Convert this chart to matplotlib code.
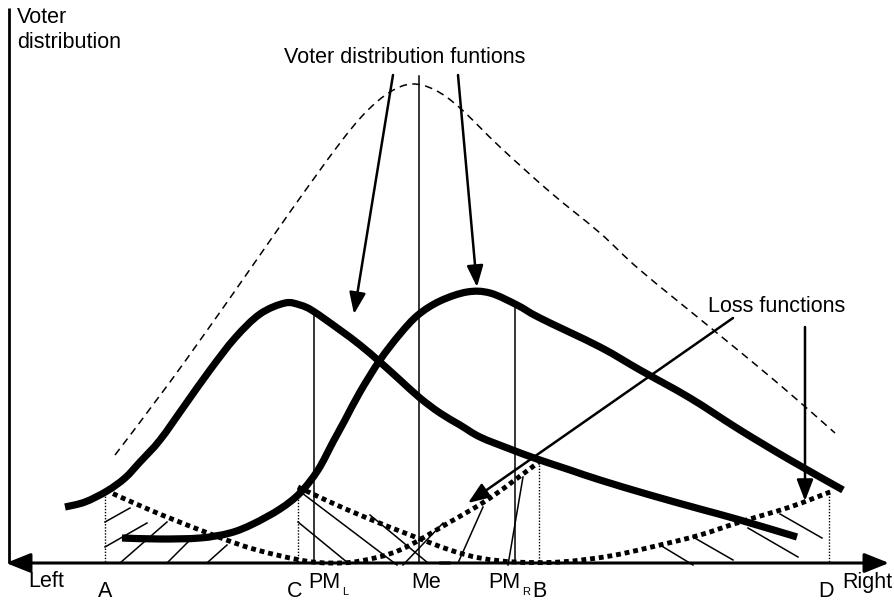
import matplotlib
matplotlib.use('Agg')
import matplotlib.pyplot as plt
from matplotlib.path import Path
from matplotlib.patches import PathPatch

plt.rcParams['font.family'] = ['Liberation Sans', 'DejaVu Sans']

# schematic drawn in picture coordinates (x to the right, y downwards)
left_x = [65, 85, 107, 125, 140, 160, 185, 210, 235, 260, 285, 300, 313, 340, 360, 380, 400, 420, 440, 460, 480, 510, 537, 570, 600, 650, 700, 740, 797]
left_y = [507, 502, 491, 478, 462, 440, 405, 370, 338, 314, 303, 305, 311, 330, 345, 362, 380, 398, 413, 425, 437, 449, 459, 470, 480, 495, 509, 520, 537]

right_x = [122, 160, 200, 230, 253, 280, 300, 318, 333, 345, 360, 380, 400, 418, 440, 467, 490, 517, 540, 600, 640, 690, 740, 790, 843]
right_y = [538, 539, 538, 533, 524, 509, 493, 470, 442, 420, 392, 360, 334, 315, 301, 292, 293, 305, 318, 347, 370, 398, 430, 460, 490]

total_x = [115, 170, 230, 290, 337, 365, 390, 412, 435, 460, 500, 550, 600, 640, 717, 780, 835]
total_y = [455, 382, 298, 212, 147, 113, 92, 84, 90, 108, 147, 192, 233, 270, 333, 385, 433]

lossL_x = [105, 150, 200, 250, 300, 330, 360, 400, 450, 490, 539]
lossL_y = [490, 510, 530, 548, 560, 563, 561, 550, 522, 498, 462]

lossR_x = [298, 330, 367, 410, 450, 480, 515, 560, 610, 660, 700, 740, 790, 830]
lossR_y = [487, 502, 518, 535, 550, 558, 562, 562, 556, 545, 535, 522, 507, 492]

# points on the ideological axis
point_names = ['A', 'C', 'B', 'D']
point_x = [105, 298, 539, 829]
point_top = [490, 487, 462, 490]

# vertical positions (PM_L, Me, PM_R)
vline_x = [314, 419, 515]
vline_top = [311, 76, 306]

# hatching segments
hatch_x0 = [105, 105, 120, 168, 208, 298, 298, 370, 403, 458, 508, 660, 693, 748, 780]
hatch_y0 = [522, 547, 563, 562, 562, 490, 522, 515, 565, 563, 565, 545, 537, 528, 514]
hatch_x1 = [130, 147, 167, 190, 227, 397, 348, 428, 443, 483, 523, 693, 733, 798, 822]
hatch_y1 = [508, 523, 522, 540, 545, 565, 563, 563, 523, 507, 477, 565, 560, 557, 538]

# annotation arrows (start -> tip)
arrow_x0 = [393, 458, 733, 805]
arrow_y0 = [75, 75, 318, 327]
arrow_x1 = [354, 477, 468, 805]
arrow_y1 = [314, 287, 503, 501]

base_y = 563


def smooth(xs, ys):
    # catmull-rom through the read points, drawn as bezier segments
    pts = list(zip(xs, ys))
    verts = [pts[0]]
    codes = [Path.MOVETO]
    for i in range(len(pts) - 1):
        p0 = pts[max(i - 1, 0)]
        p1 = pts[i]
        p2 = pts[i + 1]
        p3 = pts[min(i + 2, len(pts) - 1)]
        c1 = (p1[0] + (p2[0] - p0[0]) / 6, p1[1] + (p2[1] - p0[1]) / 6)
        c2 = (p2[0] - (p3[0] - p1[0]) / 6, p2[1] - (p3[1] - p1[1]) / 6)
        verts += [c1, c2, p2]
        codes += [Path.CURVE4] * 3
    return Path(verts, codes)


fig = plt.figure(figsize=(8.95, 6.02), dpi=100)
ax = fig.add_axes([0, 0, 1, 1])
ax.set_xlim(0, 895)
ax.set_ylim(602, 0)
ax.axis('off')

# axes of the diagram
ax.plot([9, 9], [8, base_y], color='black', lw=2, solid_capstyle='butt')
ax.annotate('', xy=(6, base_y), xytext=(450, base_y),
            arrowprops=dict(arrowstyle='-|>,head_length=0.75,head_width=0.3', mutation_scale=20,
                            color='black', lw=2.2, shrinkA=0, shrinkB=0))
ax.annotate('', xy=(889, base_y), xytext=(440, base_y),
            arrowprops=dict(arrowstyle='-|>,head_length=0.75,head_width=0.3', mutation_scale=20,
                            color='black', lw=2.2, shrinkA=0, shrinkB=0))

# aggregate distribution
ax.add_patch(PathPatch(smooth(total_x, total_y), fill=False, edgecolor='black', lw=1.1,
                       linestyle=(0, (5, 3.5))))

# verticals
for x, t in zip(vline_x, vline_top):
    ax.plot([x, x], [t, base_y], color='black', lw=1.1)
for x, t in zip(point_x, point_top):
    ax.plot([x, x], [t, base_y], color='black', lw=1.0, linestyle=(0, (1, 1.2)))

# hatching
for a, b, c, d in zip(hatch_x0, hatch_y0, hatch_x1, hatch_y1):
    ax.plot([a, c], [b, d], color='black', lw=1.1)

# loss functions
for xs, ys in [(lossL_x, lossL_y), (lossR_x, lossR_y)]:
    ax.add_patch(PathPatch(smooth(xs, ys), fill=False, edgecolor='black', lw=3.5,
                           linestyle=(0, (1, 0.8)), capstyle='butt'))

# voter distributions
for xs, ys in [(left_x, left_y), (right_x, right_y)]:
    ax.add_patch(PathPatch(smooth(xs, ys), fill=False, edgecolor='black', lw=5.2,
                           capstyle='butt', joinstyle='round'))

# annotation arrows
for a, b, c, d in zip(arrow_x0, arrow_y0, arrow_x1, arrow_y1):
    ax.annotate('', xy=(c, d), xytext=(a, b),
                arrowprops=dict(arrowstyle='-|>,head_length=0.65,head_width=0.25', mutation_scale=20,
                                color='black', lw=1.8, shrinkA=0, shrinkB=0))

fs = 15.5
ax.text(17, 23, 'Voter', fontsize=fs, va='baseline', ha='left')
ax.text(17, 48, 'distribution', fontsize=fs, va='baseline', ha='left')
ax.text(405, 63, 'Voter distribution funtions', fontsize=fs, va='baseline', ha='center')
ax.text(777, 312, 'Loss functions', fontsize=fs, va='baseline', ha='center')
ax.text(28, 587, 'Left', fontsize=fs, va='baseline', ha='left')
ax.text(842, 588, 'Right', fontsize=fs, va='baseline', ha='left')
for name, x in zip(point_names, point_x):
    off = -3 if name in ('C', 'D') else 0
    ax.text(x + off, 597, name, fontsize=fs, va='baseline', ha='center')
ax.text(308, 588, 'PM', fontsize=fs, va='baseline', ha='left')
ax.text(342, 595, 'L', fontsize=8, va='baseline', ha='left')
ax.text(426, 588, 'Me', fontsize=fs, va='baseline', ha='center')
ax.text(488, 588, 'PM', fontsize=fs, va='baseline', ha='left')
ax.text(522, 595, 'R', fontsize=8, va='baseline', ha='left')

fig.savefig('out.png', dpi=100)
